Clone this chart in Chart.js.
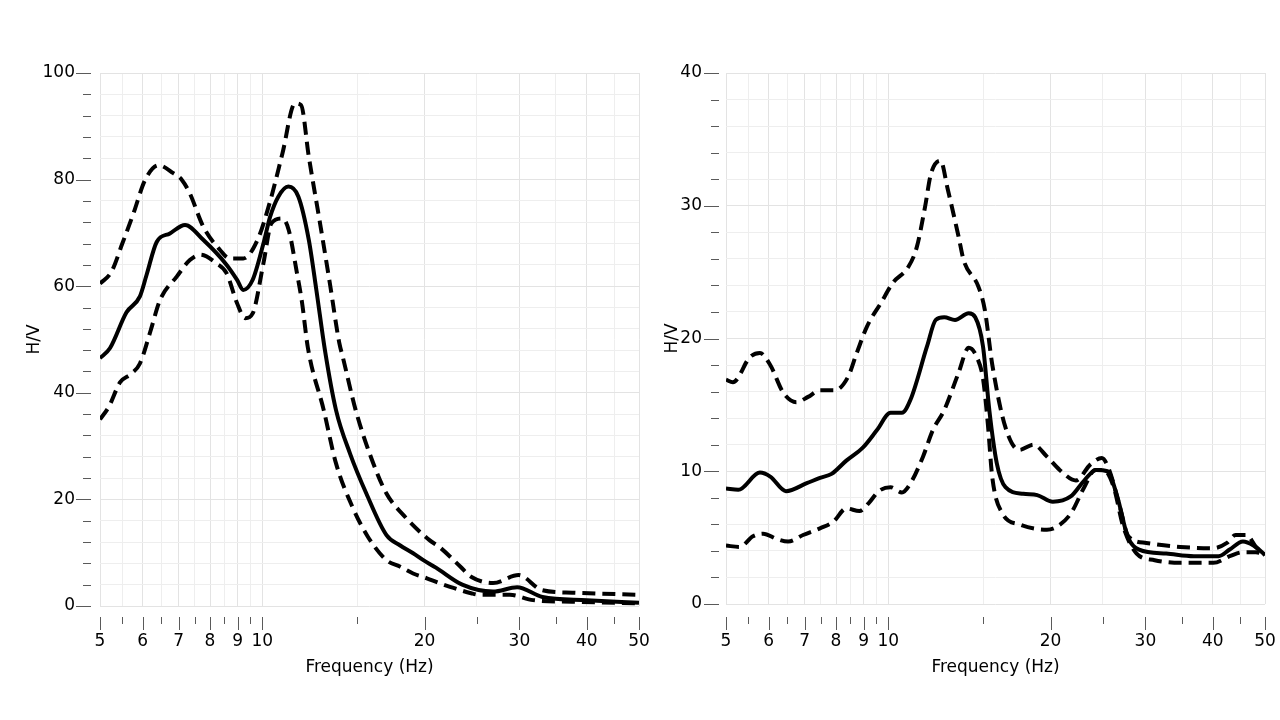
<!DOCTYPE html>
<html>
<head>
<meta charset="utf-8">
<title>H/V curves</title>
<script src="https://cdn.jsdelivr.net/npm/chart.js@4.4.1/dist/chart.umd.min.js"></script>
<style>
    html, body { margin: 0; padding: 0; background: #ffffff; }
    body { width: 1280px; height: 720px; position: relative; overflow: hidden; }
    canvas { position: absolute; top: 0; }
    #leftChart { left: 0; }
    #rightChart { left: 640px; }
</style>
</head>
<body>
<canvas id="leftChart" width="680" height="720"></canvas>
<canvas id="rightChart" width="640" height="720"></canvas>
<script>
// Axis ticks
const xMajor = [5, 6, 7, 8, 9, 10, 20, 30, 40, 50];
const xMinor = [5.5, 6.5, 7.5, 8.5, 9.5, 15, 25, 35, 45];
const leftYMajor = [0, 20, 40, 60, 80, 100];
const rightYMajor = [0, 10, 20, 30, 40];

// Left chart - mean curve
const leftMeanFreq = [5.0, 5.22, 5.6, 5.93, 6.1, 6.37, 6.74, 7.19, 7.77, 8.59, 8.98, 9.22, 9.6, 10.05, 10.34, 10.71, 11.18, 11.67, 12.2, 12.6, 13.07, 13.7, 14.55, 15.6, 17.0, 18.0, 19.05, 19.9, 21.0, 23.5, 26.8, 29.7, 33.1, 40, 50];
const leftMean = [46.5, 48.4, 55.1, 58.1, 62.1, 68.3, 69.9, 71.5, 68.7, 64.0, 61.2, 59.3, 61.2, 68.0, 73.0, 76.8, 78.7, 76.8, 68.7, 59.3, 48.0, 36.8, 28.6, 21.1, 13.3, 11.4, 9.9, 8.6, 7.2, 4.0, 2.7, 3.5, 1.7, 1.1, 0.6];

// Left chart - upper curve
const leftUpperFreq = [5.0, 5.25, 5.5, 5.77, 6.06, 6.42, 6.84, 7.1, 7.34, 7.77, 8.35, 8.7, 9.22, 9.8, 10.34, 10.9, 11.5, 11.8, 12.2, 12.8, 13.35, 13.9, 14.1, 14.9, 15.9, 17.0, 18.3, 20.4, 21.3, 23.3, 24.4, 26.8, 29.9, 33, 37.6, 50];
const leftUpper = [60.5, 62.7, 68.0, 73.7, 79.9, 82.7, 81.2, 79.9, 77.4, 71.2, 66.8, 65.2, 65.2, 68.7, 75.9, 84.9, 94.3, 94.0, 84.3, 71.8, 60.5, 49.3, 46.8, 36.8, 28.0, 21.1, 17.0, 12.4, 11.1, 7.4, 5.5, 4.3, 5.8, 3.0, 2.5, 2.1];

// Left chart - lower curve
const leftLowerFreq = [5.0, 5.2, 5.45, 5.7, 5.93, 6.2, 6.46, 6.94, 7.34, 7.67, 8.22, 8.59, 8.98, 9.3, 9.6, 10.05, 10.4, 10.9, 11.2, 11.6, 11.85, 12.15, 13.0, 13.7, 14.7, 15.7, 17.0, 18.0, 19.05, 20.2, 21.3, 22.3, 24.4, 25.3, 28.8, 31.8, 37.6, 50];
const leftLower = [35.0, 37.5, 42.0, 43.5, 45.5, 51.5, 57.4, 61.8, 64.9, 65.9, 64.3, 62.4, 56.8, 54.0, 54.9, 64.3, 71.8, 72.7, 70.5, 62.4, 57.0, 48.5, 36.8, 26.8, 18.6, 13.0, 8.6, 7.4, 6.1, 5.2, 4.3, 3.6, 2.4, 2.1, 2.1, 1.1, 0.8, 0.5];

// Right chart - mean curve
const rightMeanFreq = [5.0, 5.27, 5.78, 6.04, 6.46, 7.06, 7.47, 7.85, 8.36, 8.98, 9.53, 10.1, 10.6, 11.0, 11.8, 12.25, 12.7, 13.3, 14.1, 14.5, 14.99, 15.4, 15.9, 16.5, 17.8, 18.9, 20.2, 21.8, 23.1, 24.3, 25.5, 26.6, 27.8, 29.2, 32.8, 36.9, 41.0, 43.0, 45.5, 47.6, 50];
const rightMean = [8.7, 8.6, 9.9, 9.6, 8.5, 9.1, 9.5, 9.8, 10.8, 11.8, 13.1, 14.4, 14.4, 15.4, 19.4, 21.4, 21.6, 21.4, 21.9, 21.6, 19.4, 14.6, 10.6, 8.8, 8.3, 8.2, 7.7, 8.1, 9.3, 10.1, 10.0, 8.1, 5.1, 4.1, 3.8, 3.6, 3.6, 4.1, 4.7, 4.4, 3.7];

// Right chart - upper curve
const rightUpperFreq = [5.0, 5.15, 5.54, 5.78, 6.04, 6.39, 6.75, 7.1, 7.47, 7.96, 8.42, 8.74, 9.13, 9.7, 10.2, 10.9, 11.3, 11.7, 12.0, 12.5, 12.9, 13.5, 13.8, 14.7, 15.1, 15.6, 16.5, 17.5, 18.6, 19.7, 20.8, 22.3, 23.7, 24.9, 25.7, 26.9, 27.9, 30.1, 34.8, 40.1, 42.5, 44.1, 46.2, 48.1, 50];
const rightUpper = [16.9, 16.7, 18.6, 18.9, 18.0, 15.9, 15.2, 15.6, 16.1, 16.1, 17.1, 18.9, 20.9, 22.7, 24.2, 25.4, 26.9, 29.9, 32.4, 33.4, 31.2, 27.7, 25.9, 23.9, 22.2, 18.0, 13.3, 11.6, 12.0, 11.1, 10.1, 9.3, 10.5, 11.0, 10.1, 7.3, 5.1, 4.6, 4.3, 4.2, 4.6, 5.2, 5.2, 4.3, 3.7];

// Right chart - lower curve
const rightLowerFreq = [5.0, 5.3, 5.61, 5.86, 6.21, 6.52, 6.95, 7.47, 7.91, 8.36, 8.84, 9.2, 9.6, 10.1, 10.6, 11.0, 11.6, 12.1, 12.7, 13.5, 14.1, 14.6, 15.0, 15.3, 15.6, 16.3, 17.5, 19.7, 20.5, 21.8, 23.1, 24.2, 25.1, 26.2, 27.3, 28.9, 31.2, 34.8, 40.1, 43.0, 45.5, 48.1, 50];
const rightLower = [4.4, 4.3, 5.1, 5.3, 4.9, 4.7, 5.2, 5.7, 6.2, 7.2, 7.0, 7.6, 8.5, 8.8, 8.4, 9.1, 11.1, 13.1, 14.6, 17.4, 19.3, 18.6, 16.9, 13.6, 9.5, 6.8, 6.0, 5.6, 5.8, 6.8, 8.8, 10.1, 10.1, 8.8, 5.8, 3.8, 3.3, 3.1, 3.1, 3.6, 3.9, 3.9, 3.7];

const FONT = 'DejaVu Sans';

function toPoints(freq, values) {
    return freq.map((f, i) => ({x: f, y: values[i]}));
}

// Tick marks drawn a little away from the plot area
const offsetTicks = {
    id: 'offsetTicks',
    afterDraw(chart, args, opts) {
        const ctx = chart.ctx;
        const area = chart.chartArea;
        const xs = chart.scales.x;
        const ys = chart.scales.y;
        ctx.save();
        ctx.strokeStyle = '#5a5a5a';
        ctx.lineWidth = 1;
        xs.ticks.forEach(t => {
            const px = Math.round(xs.getPixelForValue(t.value)) + 0.5;
            const top = area.bottom + opts.xGap;
            const len = t.label ? 13 : 7;
            ctx.beginPath();
            ctx.moveTo(px, top);
            ctx.lineTo(px, top + len);
            ctx.stroke();
        });
        ys.ticks.forEach(t => {
            const py = Math.round(ys.getPixelForValue(t.value)) + 0.5;
            const right = area.left - opts.yGap;
            const len = t.label !== '' ? 15 : 8;
            ctx.beginPath();
            ctx.moveTo(right - len, py);
            ctx.lineTo(right, py);
            ctx.stroke();
        });
        ctx.restore();
    }
};

function lineSet(points, dashed) {
    return {
        data: points,
        borderColor: '#000000',
        borderWidth: 4,
        borderDash: dashed ? [13, 7] : [],
        borderCapStyle: 'butt',
        pointRadius: 0,
        cubicInterpolationMode: 'monotone',
        fill: false
    };
}

function makeChart(canvasId, cfg) {
    const xTicks = xMajor.concat(xMinor).sort((a, b) => a - b);
    const yTicks = [];
    for (let v = 0; v <= cfg.yMax + 1e-9; v += cfg.yStep) yTicks.push(Math.round(v * 100) / 100);

    return new Chart(document.getElementById(canvasId), {
        type: 'line',
        data: {
            datasets: [
                lineSet(toPoints(cfg.upperFreq, cfg.upper), true),
                lineSet(toPoints(cfg.lowerFreq, cfg.lower), true),
                lineSet(toPoints(cfg.meanFreq, cfg.mean), false)
            ]
        },
        plugins: [offsetTicks],
        options: {
            responsive: false,
            animation: false,
            devicePixelRatio: 1,
            layout: {
                padding: {top: 73, right: cfg.padRight, left: 0, bottom: 0}
            },
            plugins: {
                legend: {display: false},
                tooltip: {enabled: false},
                offsetTicks: {xGap: cfg.xGap, yGap: cfg.yGap}
            },
            scales: {
                x: {
                    type: 'logarithmic',
                    min: 5,
                    max: 50,
                    border: {display: false},
                    grid: {
                        drawTicks: false,
                        lineWidth: 1,
                        color: ctx => (ctx.tick && xMajor.includes(ctx.tick.value)) ? '#e3e3e3' : '#eeeeee'
                    },
                    afterBuildTicks: scale => {
                        scale.ticks = xTicks.map(v => ({value: v}));
                    },
                    afterFit: scale => {
                        scale.height = cfg.xHeight;
                        scale.paddingLeft = 0;
                        scale.paddingRight = 0;
                    },
                    ticks: {
                        autoSkip: false,
                        maxRotation: 0,
                        padding: cfg.xLabelPad,
                        color: '#000000',
                        font: {family: FONT, size: 17},
                        callback: value => xMajor.includes(value) ? String(value) : ''
                    },
                    title: {
                        display: true,
                        text: 'Frequency (Hz)',
                        color: '#000000',
                        font: {family: FONT, size: 17},
                        padding: {top: 0, bottom: 42}
                    }
                },
                y: {
                    type: 'linear',
                    min: 0,
                    max: cfg.yMax,
                    border: {display: false},
                    grid: {
                        drawTicks: false,
                        lineWidth: 1,
                        color: ctx => (ctx.tick && cfg.yMajor.includes(ctx.tick.value)) ? '#e3e3e3' : '#eeeeee'
                    },
                    afterBuildTicks: scale => {
                        scale.ticks = yTicks.map(v => ({value: v}));
                    },
                    afterFit: scale => {
                        scale.width = cfg.yWidth;
                        scale.paddingTop = 0;
                        scale.paddingBottom = 0;
                    },
                    ticks: {
                        autoSkip: false,
                        padding: cfg.yLabelPad,
                        color: '#000000',
                        font: {family: FONT, size: 17},
                        callback: value => cfg.yMajor.includes(value) ? String(value) : ''
                    },
                    title: {
                        display: true,
                        text: 'H/V',
                        color: '#000000',
                        font: {family: FONT, size: 17},
                        padding: {top: cfg.yTitlePad, bottom: 0}
                    }
                }
            }
        }
    });
}

makeChart('leftChart', {
    meanFreq: leftMeanFreq, mean: leftMean,
    upperFreq: leftUpperFreq, upper: leftUpper,
    lowerFreq: leftLowerFreq, lower: leftLower,
    yMax: 100, yStep: 4, yMajor: leftYMajor,
    padRight: 41, xHeight: 114, yWidth: 100,
    xLabelPad: 25, yLabelPad: 25, yTitlePad: 24,
    xGap: 11, yGap: 9
});

makeChart('rightChart', {
    meanFreq: rightMeanFreq, mean: rightMean,
    upperFreq: rightUpperFreq, upper: rightUpper,
    lowerFreq: rightLowerFreq, lower: rightLower,
    yMax: 40, yStep: 2, yMajor: rightYMajor,
    padRight: 15, xHeight: 116, yWidth: 86,
    xLabelPad: 27, yLabelPad: 24, yTitlePad: 22,
    xGap: 13, yGap: 7
});
</script>
</body>
</html>
